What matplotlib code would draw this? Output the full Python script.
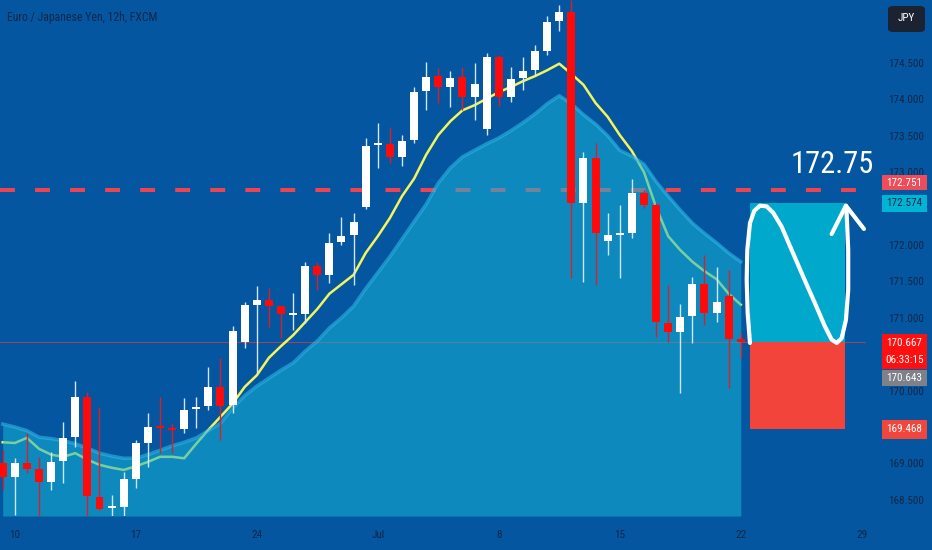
import matplotlib
matplotlib.use("Agg")
import matplotlib.pyplot as plt
from matplotlib import transforms
from matplotlib.patches import Rectangle, FancyBboxPatch
import numpy as np

# EUR/JPY 12h candles, index 0 = first visible bar
opens = [169.00, 168.81, 169.00, 168.92, 168.75, 169.03, 169.36, 169.91, 168.54, 168.39,
         168.40, 168.79, 169.28, 169.51, 169.49, 169.47, 169.75, 169.79, 170.05, 169.80,
         170.67, 171.18, 171.25, 171.16, 171.04, 171.05, 171.71, 171.59, 172.04, 172.14,
         172.52, 173.37, 173.39, 173.21, 173.44, 174.12, 174.32, 174.17, 174.31, 174.03,
         173.59, 174.58, 174.03, 174.29, 174.40, 174.67, 175.08, 175.20, 172.58, 173.20,
         172.06, 172.14, 172.17, 172.71, 172.55, 170.93, 170.81, 171.03, 171.46, 171.07,
         171.30, 170.71]
highs = [169.18, 169.07, 169.42, 169.09, 169.16, 169.57, 170.13, 169.98, 169.78, 168.57,
         168.88, 169.32, 169.69, 169.91, 169.56, 169.90, 169.91, 170.32, 170.45, 170.89,
         171.22, 171.44, 171.41, 171.16, 171.34, 171.77, 171.77, 172.17, 172.39, 172.44,
         173.47, 173.68, 173.62, 173.51, 174.17, 174.51, 174.43, 174.39, 174.45, 174.50,
         174.64, 174.61, 174.45, 174.58, 174.75, 175.15, 175.30, 175.37, 173.28, 173.40,
         172.44, 172.55, 172.91, 172.76, 172.58, 171.45, 171.19, 171.56, 171.86, 171.70,
         171.66, 170.79]
lows = [168.64, 168.29, 168.87, 168.26, 168.64, 168.73, 169.23, 168.26, 168.36, 168.26,
        168.26, 168.66, 168.95, 169.14, 169.14, 169.42, 169.49, 169.73, 169.32, 169.69,
        170.59, 170.24, 170.87, 170.72, 170.83, 170.93, 171.38, 171.48, 172.00, 171.45,
        172.50, 173.06, 173.13, 173.09, 173.40, 173.85, 173.95, 173.90, 173.85, 173.72,
        173.51, 173.91, 173.96, 174.13, 174.34, 174.61, 174.94, 171.55, 171.49, 171.45,
        171.86, 171.55, 172.10, 172.51, 170.74, 170.67, 169.97, 170.65, 170.90, 170.94,
        170.04, 170.45]
closes = [168.81, 169.00, 168.92, 168.75, 169.02, 169.35, 169.91, 168.55, 168.37, 168.42,
          168.79, 169.28, 169.50, 169.49, 169.46, 169.73, 169.78, 170.05, 169.79, 170.82,
          171.18, 171.25, 171.16, 171.05, 171.06, 171.71, 171.59, 172.03, 172.12, 172.32,
          173.36, 173.38, 173.21, 173.43, 174.10, 174.31, 174.17, 174.29, 174.03, 174.21,
          174.58, 174.03, 174.28, 174.39, 174.67, 175.06, 175.20, 172.58, 173.20, 172.17,
          172.14, 172.16, 172.71, 172.55, 170.94, 170.81, 171.01, 171.46, 171.07, 171.22,
          170.71, 170.667]

# fast moving average (yellow line)
ema_fast = [169.29, 169.28, 169.35, 169.20, 169.12, 169.09, 169.14, 169.05, 168.98, 168.94,
            168.91, 168.96, 169.02, 169.09, 169.09, 169.07, 169.27, 169.46, 169.64, 169.82,
            170.05, 170.21, 170.45, 170.61, 170.76, 170.94, 171.12, 171.33, 171.46, 171.59,
            171.89, 172.12, 172.37, 172.67, 172.91, 173.24, 173.51, 173.70, 173.85, 173.92,
            174.01, 174.10, 174.17, 174.25, 174.32, 174.40, 174.49, 174.35, 174.20, 173.95,
            173.76, 173.51, 173.29, 173.00, 172.52, 172.12, 171.93, 171.77, 171.64, 171.53,
            171.33, 171.18]
# slow moving average (filled area)
ema_slow = [169.54, 169.50, 169.45, 169.36, 169.34, 169.31, 169.27, 169.21, 169.14, 169.10,
            169.07, 169.07, 169.12, 169.18, 169.24, 169.29, 169.35, 169.45, 169.55, 169.76,
            169.93, 170.06, 170.17, 170.28, 170.38, 170.54, 170.68, 170.86, 171.00, 171.16,
            171.40, 171.62, 171.84, 172.08, 172.32, 172.56, 172.85, 173.06, 173.21, 173.30,
            173.39, 173.47, 173.57, 173.68, 173.80, 173.94, 174.05, 173.94, 173.79, 173.66,
            173.50, 173.30, 173.22, 173.11, 172.87, 172.67, 172.48, 172.30, 172.16, 172.03,
            171.89, 171.77]

tick_pos = [1, 11, 21, 31, 41, 51, 61, 71]
tick_labels = ["10", "17", "24", "Jul", "8", "15", "22", "29"]
# price scale labels that are not hidden behind a tag
price_ticks = [168.5, 169.0, 170.0, 171.0, 171.5, 172.0, 173.0, 173.5, 174.0, 174.5]

target = 172.751
take_profit = 172.574
last_price = 170.667
bid_price = 170.643
stop_loss = 169.468

# hand drawn wave + arrow on the position box (bar index, price)
wave_x = [61.76, 61.57, 61.49, 61.54, 61.76, 62.12, 62.59, 63.14, 63.69, 64.38, 65.21,
          66.17, 67.13, 67.96, 68.51, 68.93, 69.34, 69.69, 69.88, 69.88, 69.75, 69.69]
wave_y = [170.654, 171.066, 171.52, 171.93, 172.30, 172.47, 172.54, 172.53, 172.44, 172.25,
          171.93, 171.56, 171.20, 170.88, 170.70, 170.654, 170.72, 170.97, 171.38, 171.93,
          172.44, 172.54]

BG = "#0556a0"
TXT = "#0f2748"
FONT = ["Roboto Condensed", "Liberation Sans", "DejaVu Sans"]
plt.rcParams["font.family"] = FONT

fig = plt.figure(figsize=(9.32, 5.5), dpi=100, facecolor=BG)
ax = fig.add_axes([0, 34 / 550, 866 / 932, 516 / 550])
ax.set_facecolor(BG)
for s in ax.spines.values():
    s.set_visible(False)

idx = np.arange(len(closes))
ymin, ymax = 168.277, 175.365
ax.set_xlim(-0.223, 71.35)
ax.set_ylim(ymin, ymax)

# lines drawn under the cloud so they get tinted by it
ax.axhline(target, color="#ee4452", lw=2.9, dashes=(3.7, 5.0), zorder=1)
ax.axhline(last_price, color="#d0404e", lw=0.8, alpha=0.7, zorder=1)
ax.plot(idx, ema_fast, color="#f4f45c", lw=1.8, zorder=2)

ax.fill_between(idx, ema_slow, ymin, color="#14b4d6", alpha=0.55, lw=0, zorder=3)
ax.plot(idx, ema_slow, color="#30b8e6", lw=2.5, alpha=0.6, zorder=3)

# candles
for i in idx:
    o, h, l, c = opens[i], highs[i], lows[i], closes[i]
    up = c >= o
    wick = "#cfe6ff" if up else "#d8202c"
    body = "#ffffff" if up else "#ff0a0a"
    ax.vlines(i, l, h, color=wick, lw=1, zorder=4)
    ax.bar(i, max(abs(c - o), 0.025), bottom=min(o, c), width=0.66,
           color=body, lw=0, zorder=5)

# position box
bx0, bx1 = 61.76, 69.6
ax.add_patch(Rectangle((bx0, last_price), bx1 - bx0, take_profit - last_price,
                       color="#00a9cc", lw=0, zorder=6))
ax.add_patch(Rectangle((bx0, stop_loss), bx1 - bx0, last_price - stop_loss,
                       color="#f2443a", lw=0, zorder=6))
ax.plot(wave_x, wave_y, color="white", lw=3, solid_capstyle="round",
        solid_joinstyle="round", zorder=7, clip_on=False)
ax.plot([68.51, 69.69, 71.18], [172.15, 172.54, 172.22], color="white", lw=3,
        solid_capstyle="round", solid_joinstyle="round", zorder=7, clip_on=False)
ax.text(68.54, 173.10, "172.75", color="white", fontsize=22, ha="center",
        va="center", zorder=8)

# axes ticks
ax.yaxis.tick_right()
ax.set_yticks(price_ticks)
ax.set_yticklabels(["%.3f" % v for v in price_ticks])
ax.set_xticks(tick_pos)
ax.set_xticklabels(tick_labels)
ax.tick_params(axis="y", length=0, pad=16, labelsize=8, labelcolor=TXT)
ax.tick_params(axis="x", length=0, pad=10, labelsize=8, labelcolor=TXT)

# price tags on the right scale
tr = transforms.blended_transform_factory(fig.transFigure, ax.transData)
tx0, tx1 = 882 / 932, 927 / 932
tags = [
    (172.96, 172.755, "#ef4c5a", "white", ["172.751"]),
    (172.687, 172.453, "#00b4d4", TXT, ["172.574"]),
    (170.78, 170.297, "#ff1010", "white", ["170.667", "06:33:15"]),
    (170.283, 170.063, "#7d8189", "white", ["170.643"]),
    (169.596, 169.335, "#f0463c", "white", ["169.468"]),
]
for top, bot, fc, tc, lines in tags:
    ax.add_patch(Rectangle((tx0, bot), tx1 - tx0, top - bot, transform=tr,
                           color=fc, lw=0, clip_on=False, zorder=9))
    n = len(lines)
    for k, s in enumerate(lines):
        yc = top - (top - bot) * (k + 0.5) / n
        ax.text((tx0 + tx1) / 2, yc, s, transform=tr, color=tc, fontsize=8,
                ha="center", va="center", zorder=10, clip_on=False)

# currency button
fig.patches.append(FancyBboxPatch((888 / 932, 1 - 32 / 550), 37 / 932, 26 / 550,
                                  boxstyle="round,pad=0,rounding_size=0.006",
                                  transform=fig.transFigure, fc="#1b2232", ec="none"))
fig.text(906 / 932, 1 - 18 / 550, "JPY", color="white", fontsize=8,
         ha="center", va="center")

fig.text(7 / 932, 1 - 18 / 550, "Euro / Japanese Yen, 12h, FXCM", color=TXT,
         fontsize=8.5, ha="left", va="center")

fig.savefig("out.png", dpi=100, facecolor=BG)
